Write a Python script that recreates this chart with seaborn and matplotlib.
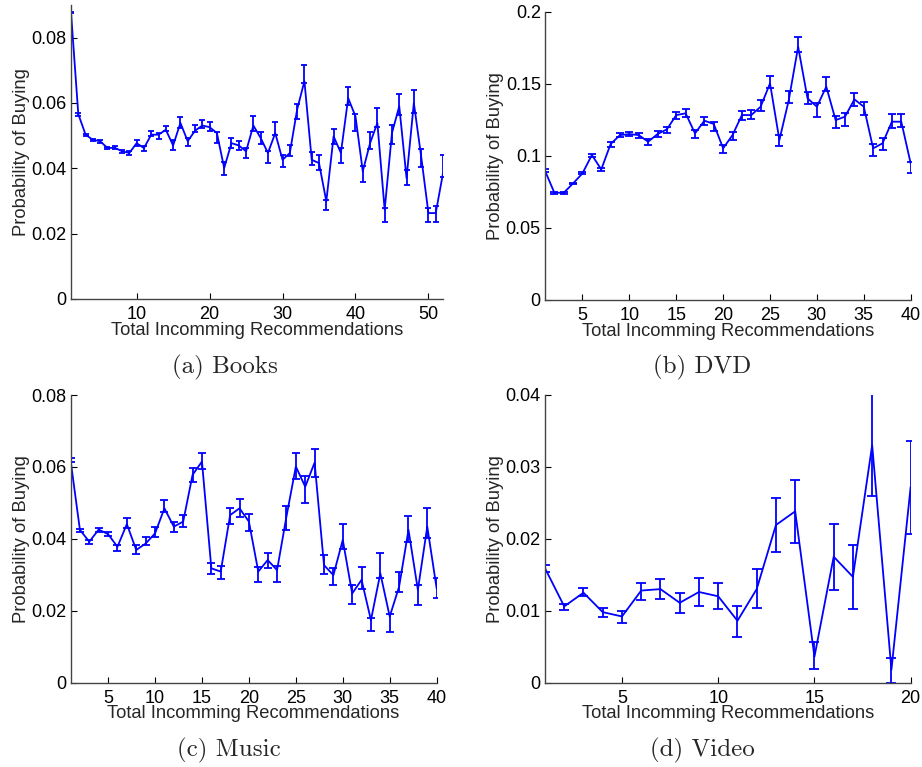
import numpy as np
import pandas as pd
import matplotlib
matplotlib.use("Agg")
import matplotlib.pyplot as plt
import seaborn as sns

# ==============================
# DATA
# ==============================
books_p = [0.0878, 0.0566, 0.0503, 0.0487, 0.0483, 0.0462, 0.0463, 0.0452, 0.0447, 0.0477,
           0.0462, 0.0503, 0.0503, 0.0518, 0.0470, 0.0539, 0.0483, 0.0515, 0.0531, 0.0526,
           0.0508, 0.0401, 0.0477, 0.0470, 0.0452, 0.0531, 0.0493, 0.0447, 0.0508, 0.0426,
           0.0447, 0.0580, 0.0667, 0.0426, 0.0416, 0.0299, 0.0498, 0.0447, 0.0615, 0.0559,
           0.0391, 0.0477, 0.0539, 0.0273, 0.0508, 0.0590, 0.0370, 0.0600, 0.0437, 0.0263,
           0.0263, 0.0385]
books_lo = [0.0875, 0.0561, 0.0499, 0.0484, 0.0479, 0.0458, 0.0459, 0.0448, 0.0442, 0.0467,
            0.0454, 0.0500, 0.0491, 0.0513, 0.0455, 0.0523, 0.0469, 0.0510, 0.0523, 0.0513,
            0.0479, 0.0380, 0.0462, 0.0455, 0.0431, 0.0513, 0.0475, 0.0416, 0.0503, 0.0404,
            0.0437, 0.0552, 0.0661, 0.0411, 0.0396, 0.0271, 0.0474, 0.0415, 0.0595, 0.0513,
            0.0359, 0.0458, 0.0525, 0.0237, 0.0474, 0.0564, 0.0349, 0.0568, 0.0403, 0.0237,
            0.0237, 0.0372]
books_hi = [0.0880, 0.0570, 0.0506, 0.0489, 0.0486, 0.0466, 0.0467, 0.0456, 0.0452, 0.0488,
            0.0469, 0.0515, 0.0508, 0.0531, 0.0488, 0.0556, 0.0493, 0.0534, 0.0549, 0.0542,
            0.0510, 0.0418, 0.0493, 0.0483, 0.0462, 0.0561, 0.0510, 0.0452, 0.0542, 0.0440,
            0.0472, 0.0597, 0.0715, 0.0449, 0.0440, 0.0304, 0.0520, 0.0462, 0.0649, 0.0567,
            0.0406, 0.0510, 0.0584, 0.0278, 0.0534, 0.0626, 0.0396, 0.0639, 0.0459, 0.0278,
            0.0285, 0.0440]

dvd_p = [0.0897, 0.0744, 0.0744, 0.0809, 0.0879, 0.1006, 0.0906, 0.1082, 0.1144, 0.1151,
         0.1144, 0.1098, 0.1151, 0.1184, 0.1283, 0.1295, 0.1156, 0.1244, 0.1221, 0.1052,
         0.1144, 0.1283, 0.1283, 0.1341, 0.1503, 0.1110, 0.1387, 0.1757, 0.1399, 0.1341,
         0.1480, 0.1248, 0.1272, 0.1392, 0.1341, 0.1052, 0.1087, 0.1237, 0.1237, 0.0948]
dvd_lo = [0.0888, 0.0738, 0.0738, 0.0803, 0.0872, 0.0994, 0.0895, 0.1064, 0.1133, 0.1137,
          0.1121, 0.1073, 0.1133, 0.1161, 0.1258, 0.1272, 0.1124, 0.1214, 0.1175, 0.1022,
          0.1110, 0.1249, 0.1253, 0.1310, 0.1468, 0.1068, 0.1364, 0.1722, 0.1359, 0.1272,
          0.1452, 0.1195, 0.1209, 0.1346, 0.1283, 0.0999, 0.1040, 0.1195, 0.1202, 0.0883]
dvd_hi = [0.0906, 0.0750, 0.0750, 0.0815, 0.0886, 0.1013, 0.0918, 0.1094, 0.1160, 0.1165,
          0.1161, 0.1114, 0.1170, 0.1202, 0.1302, 0.1327, 0.1179, 0.1272, 0.1235, 0.1075,
          0.1167, 0.1313, 0.1318, 0.1387, 0.1554, 0.1144, 0.1452, 0.1826, 0.1443, 0.1364,
          0.1549, 0.1276, 0.1295, 0.1433, 0.1376, 0.1082, 0.1126, 0.1288, 0.1288, 0.0959]

music_p = [0.0619, 0.0425, 0.0392, 0.0426, 0.0413, 0.0378, 0.0441, 0.0369, 0.0387, 0.0415,
           0.0485, 0.0434, 0.0448, 0.0578, 0.0615, 0.0318, 0.0309, 0.0466, 0.0485, 0.0448,
           0.0309, 0.0341, 0.0313, 0.0462, 0.0601, 0.0545, 0.0612, 0.0327, 0.0299, 0.0397,
           0.0248, 0.0286, 0.0174, 0.0304, 0.0184, 0.0267, 0.0425, 0.0258, 0.0434, 0.0262]
music_lo = [0.0615, 0.0420, 0.0386, 0.0420, 0.0408, 0.0366, 0.0429, 0.0358, 0.0383, 0.0406,
            0.0476, 0.0418, 0.0434, 0.0559, 0.0593, 0.0302, 0.0288, 0.0440, 0.0462, 0.0422,
            0.0281, 0.0320, 0.0281, 0.0426, 0.0566, 0.0501, 0.0573, 0.0302, 0.0272, 0.0371,
            0.0218, 0.0260, 0.0144, 0.0290, 0.0142, 0.0251, 0.0390, 0.0216, 0.0401, 0.0235]
music_hi = [0.0624, 0.0428, 0.0397, 0.0431, 0.0420, 0.0383, 0.0457, 0.0383, 0.0406, 0.0434,
            0.0508, 0.0448, 0.0466, 0.0596, 0.0638, 0.0334, 0.0324, 0.0487, 0.0511, 0.0469,
            0.0323, 0.0362, 0.0325, 0.0491, 0.0638, 0.0575, 0.0650, 0.0355, 0.0318, 0.0440,
            0.0272, 0.0321, 0.0181, 0.0360, 0.0190, 0.0309, 0.0464, 0.0272, 0.0487, 0.0292]

video_p = [0.0159, 0.0106, 0.0125, 0.0098, 0.0092, 0.0128, 0.0130, 0.0111, 0.0126, 0.0120,
           0.0086, 0.0130, 0.0219, 0.0238, 0.0036, 0.0175, 0.0147, 0.0330, 0.0018, 0.0272]
video_lo = [0.0154, 0.0101, 0.0121, 0.0091, 0.0083, 0.0115, 0.0116, 0.0097, 0.0107, 0.0102,
            0.0063, 0.0104, 0.0181, 0.0194, 0.0019, 0.0129, 0.0103, 0.0260, 0.0000, 0.0206]
video_hi = [0.0164, 0.0109, 0.0131, 0.0104, 0.0100, 0.0139, 0.0144, 0.0125, 0.0145, 0.0139,
            0.0106, 0.0158, 0.0257, 0.0282, 0.0057, 0.0221, 0.0191, 0.0415, 0.0035, 0.0335]

captions = ["(a) Books", "(b) DVD", "(c) Music", "(d) Video"]

# ==============================
# STYLE
# ==============================
sns.set_style("ticks")
plt.rcParams["font.family"] = ["Liberation Sans", "DejaVu Sans"]
plt.rcParams["axes.formatter.use_mathtext"] = False

fig = plt.figure(figsize=(9.22, 7.67), dpi=100)

panels = [
    # data, axes rect, xlim, ylim, xticks, yticks, yticklabels, capsize
    ((books_p, books_lo, books_hi), [0.0770, 0.6102, 0.4035, 0.3833], (1, 52), (0, 0.09),
     [10, 20, 30, 40, 50], [0, 0.02, 0.04, 0.06, 0.08], ["0", "0.02", "0.04", "0.06", "0.08"], 2.3),
    ((dvd_p, dvd_lo, dvd_hi), [0.5911, 0.6089, 0.3966, 0.3758], (1, 40), (0, 0.2),
     [5, 10, 15, 20, 25, 30, 35, 40], [0, 0.05, 0.1, 0.15, 0.2], ["0", "0.05", "0.1", "0.15", "0.2"], 2.8),
    ((music_p, music_lo, music_hi), [0.0765, 0.1099, 0.3971, 0.3751], (1, 40), (0, 0.08),
     [5, 10, 15, 20, 25, 30, 35, 40], [0, 0.02, 0.04, 0.06, 0.08], ["0", "0.02", "0.04", "0.06", "0.08"], 2.8),
    ((video_p, video_lo, video_hi), [0.5911, 0.1099, 0.3966, 0.3755], (1, 20), (0, 0.04),
     [5, 10, 15, 20], [0, 0.01, 0.02, 0.03, 0.04], ["0", "0.01", "0.02", "0.03", "0.04"], 3.6),
]

caption_pos = [(0.244, 0.5215), (0.762, 0.5215), (0.248, 0.022), (0.762, 0.022)]

for (vals, rect, xlim, ylim, xt, yt, ytl, cap), title, cpos in zip(panels, captions, caption_pos):
    p, lo, hi = vals
    df = pd.DataFrame({"n": np.arange(1, len(p) + 1), "p": p, "lo": lo, "hi": hi})
    err = np.vstack([np.clip(df.p - df.lo, 0, None), np.clip(df.hi - df.p, 0, None)])

    ax = fig.add_axes(rect)
    sns.lineplot(data=df, x="n", y="p", color="blue", linewidth=1.3, ax=ax)
    ax.errorbar(df.n, df.p, yerr=err, fmt="none", ecolor="blue",
                elinewidth=1.3, capsize=cap, capthick=1.3)

    ax.set_xlim(*xlim)
    ax.set_ylim(*ylim)
    ax.set_xticks(xt)
    ax.set_yticks(yt)
    ax.set_yticklabels(ytl)
    sns.despine(ax=ax)
    ax.tick_params(direction="in", length=4, labelsize=13, colors="black")
    ax.tick_params(axis="x", pad=5)
    ax.tick_params(axis="y", pad=3)
    for s in ["left", "bottom"]:
        ax.spines[s].set_color("#444444")
        ax.spines[s].set_linewidth(1.0)

    ax.set_xlabel("Total Incomming Recommendations", fontsize=13.2, labelpad=-1)
    ax.set_ylabel("Probability of Buying", fontsize=13.2, labelpad=1)

    fig.text(cpos[0], cpos[1], title, ha="center", va="center",
             fontsize=18, family=["cmr10", "DejaVu Serif"])

fig.savefig("out.png", dpi=100)
